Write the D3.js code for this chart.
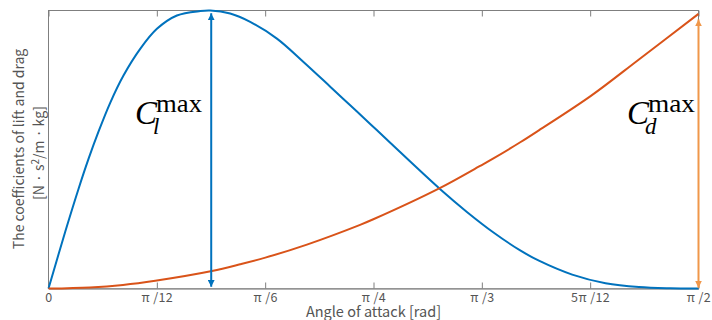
<!DOCTYPE html>
<html>
<head>
<meta charset="utf-8">
<script src="https://cdn.jsdelivr.net/npm/d3@7"></script>
<style>
  body { margin: 0; background: #fff; }
  svg text { font-family: "Noto Sans CJK JP", "Noto Sans", sans-serif; }
  svg text.math { font-family: "Liberation Serif", "DejaVu Serif", serif; }
</style>
</head>
<body>
<div id="chart"></div>
<script>
// angle of attack [rad] and normalised coefficients
const liftAngle = [0, 0.0404, 0.0725, 0.0967, 0.1208, 0.1491, 0.1812, 0.2216, 0.2620, 0.3103, 0.3666, 0.3908,
  0.4391, 0.4874, 0.5520, 0.6162, 0.6808, 0.7291, 0.7774, 0.8258, 0.9466, 1.0111, 1.0754, 1.1399, 1.1851,
  1.2656, 1.3461, 1.4268, 1.5024, 1.5708];
const liftValue = [0, 0.204, 0.358, 0.466, 0.564, 0.668, 0.766, 0.862, 0.934, 0.982, 0.998, 1.0,
  0.989, 0.959, 0.899, 0.815, 0.726, 0.659, 0.592, 0.524, 0.357, 0.2755, 0.2015, 0.137, 0.100,
  0.050, 0.019, 0.005, 0.0007, 0];
const dragAngle = [0, 0.10, 0.18, 0.258, 0.395, 0.463, 0.524, 0.6245, 0.753, 0.785, 0.9466, 1.043,
  1.0763, 1.140, 1.185, 1.3108, 1.4268, 1.5708];
const dragValue = [0, 0.004, 0.013, 0.028, 0.063, 0.087, 0.111, 0.158, 0.229, 0.249, 0.362, 0.441,
  0.469, 0.526, 0.569, 0.693, 0.824, 0.988];

const tickValues = [0, Math.PI / 12, Math.PI / 6, Math.PI / 4, Math.PI / 3, 5 * Math.PI / 12, Math.PI / 2];
const tickLabels = ["0", "π /12", "π /6", "π /4", "π /3", "5π /12", "π /2"];

const width = 712, height = 320;
const mLeft = 48.5, mRight = 698.5, mTop = 10.5, mBottom = 288.5;
const blue = "#0072BD", orange = "#D95319", lightOrange = "#F0974A";
const gray = "#7f7f7f", textGray = "#555";

const svg = d3.select("#chart").append("svg")
  .attr("width", width)
  .attr("height", height);

const x = d3.scaleLinear().domain([0, Math.PI / 2]).range([mLeft, mRight]);
const y = d3.scaleLinear().domain([0, 1]).range([mBottom, mTop]);

// arrow heads
const defs = svg.append("defs");
function marker(id, color) {
  defs.append("marker")
    .attr("id", id)
    .attr("viewBox", "0 0 10 10")
    .attr("refX", 10).attr("refY", 5)
    .attr("markerWidth", 3.4).attr("markerHeight", 3.4)
    .attr("orient", "auto-start-reverse")
    .append("path")
    .attr("d", "M0,0 L10,5 L0,10 z")
    .attr("fill", color);
}
marker("headBlue", blue);
marker("headOrange", lightOrange);

// box and axes
svg.append("rect")
  .attr("x", mLeft).attr("y", mTop)
  .attr("width", mRight - mLeft).attr("height", mBottom - mTop)
  .attr("fill", "none").attr("stroke", gray).attr("stroke-width", 1);

const xAxis = svg.append("g")
  .attr("transform", "translate(0," + mBottom + ")")
  .call(d3.axisBottom(x).tickValues(tickValues).tickFormat((d, i) => tickLabels[i]).tickSizeInner(-6).tickSizeOuter(0).tickPadding(5));
xAxis.select(".domain").attr("stroke", "#9a9a9a").attr("stroke-width", 1.6);
xAxis.selectAll(".tick line").attr("stroke", gray);
xAxis.selectAll(".tick text").attr("fill", textGray)
  .style("font-size", "12.5px").style("letter-spacing", "0.4px");

svg.append("g")
  .attr("transform", "translate(0," + mTop + ")")
  .call(d3.axisTop(x).tickValues(tickValues).tickFormat("").tickSizeInner(-6).tickSizeOuter(0))
  .call(g => g.select(".domain").remove())
  .selectAll(".tick line").attr("stroke", gray);

// curves
const line = d3.line().x(d => x(d[0])).y(d => y(d[1])).curve(d3.curveCatmullRom.alpha(0.5));

svg.append("path")
  .datum(liftAngle.map((a, i) => [a, liftValue[i]]))
  .attr("d", line)
  .attr("fill", "none").attr("stroke", blue).attr("stroke-width", 2);

svg.append("path")
  .datum(dragAngle.map((a, i) => [a, dragValue[i]]))
  .attr("d", line)
  .attr("fill", "none").attr("stroke", orange).attr("stroke-width", 2);

// max arrows
const liftPeak = liftAngle[d3.maxIndex(liftValue)];
svg.append("line")
  .attr("x1", x(liftPeak) + 1).attr("x2", x(liftPeak) + 1)
  .attr("y1", y(0.006)).attr("y2", y(0.99))
  .attr("stroke", blue).attr("stroke-width", 2)
  .attr("marker-start", "url(#headBlue)")
  .attr("marker-end", "url(#headBlue)");

const dragPeak = dragAngle[d3.maxIndex(dragValue)];
svg.append("line")
  .attr("x1", x(dragPeak)).attr("x2", x(dragPeak))
  .attr("y1", y(0.003)).attr("y2", y(0.968))
  .attr("stroke", lightOrange).attr("stroke-width", 2)
  .attr("marker-start", "url(#headOrange)")
  .attr("marker-end", "url(#headOrange)");

// C max labels
function cLabel(px, sub, maxWidth) {
  const g = svg.append("g").attr("fill", "#000");
  g.append("text").attr("class", "math").attr("x", px).attr("y", 124)
    .style("font-style", "italic").style("font-size", "33px").text("C");
  g.append("text").attr("class", "math").attr("x", px + 18).attr("y", 134)
    .style("font-style", "italic").style("font-size", "23px").text(sub);
  g.append("text").attr("class", "math").attr("x", px + 21).attr("y", 112)
    .style("font-size", "26px")
    .attr("textLength", maxWidth).attr("lengthAdjust", "spacingAndGlyphs")
    .text("max");
}
cLabel(135, "l", 46);
cLabel(627, "d", 47);

// axis labels
svg.append("text")
  .attr("x", (mLeft + mRight) / 2).attr("y", 317)
  .attr("text-anchor", "middle")
  .attr("fill", textGray)
  .style("font-size", "14.5px")
  .text("Angle of attack [rad]");

const yLab = svg.append("text")
  .attr("transform", "translate(24,149) rotate(-90)")
  .attr("text-anchor", "middle")
  .attr("fill", textGray)
  .style("font-size", "14px");
yLab.append("tspan").attr("x", 0).attr("y", 0).text("The coefficients of lift and drag");
const l2 = yLab.append("tspan").attr("x", -4).attr("y", 20);
l2.append("tspan").text("[N · s");
l2.append("tspan").text("2").attr("dy", -5).style("font-size", "10px");
l2.append("tspan").text("/m · kg]").attr("dy", 5);
</script>
</body>
</html>
